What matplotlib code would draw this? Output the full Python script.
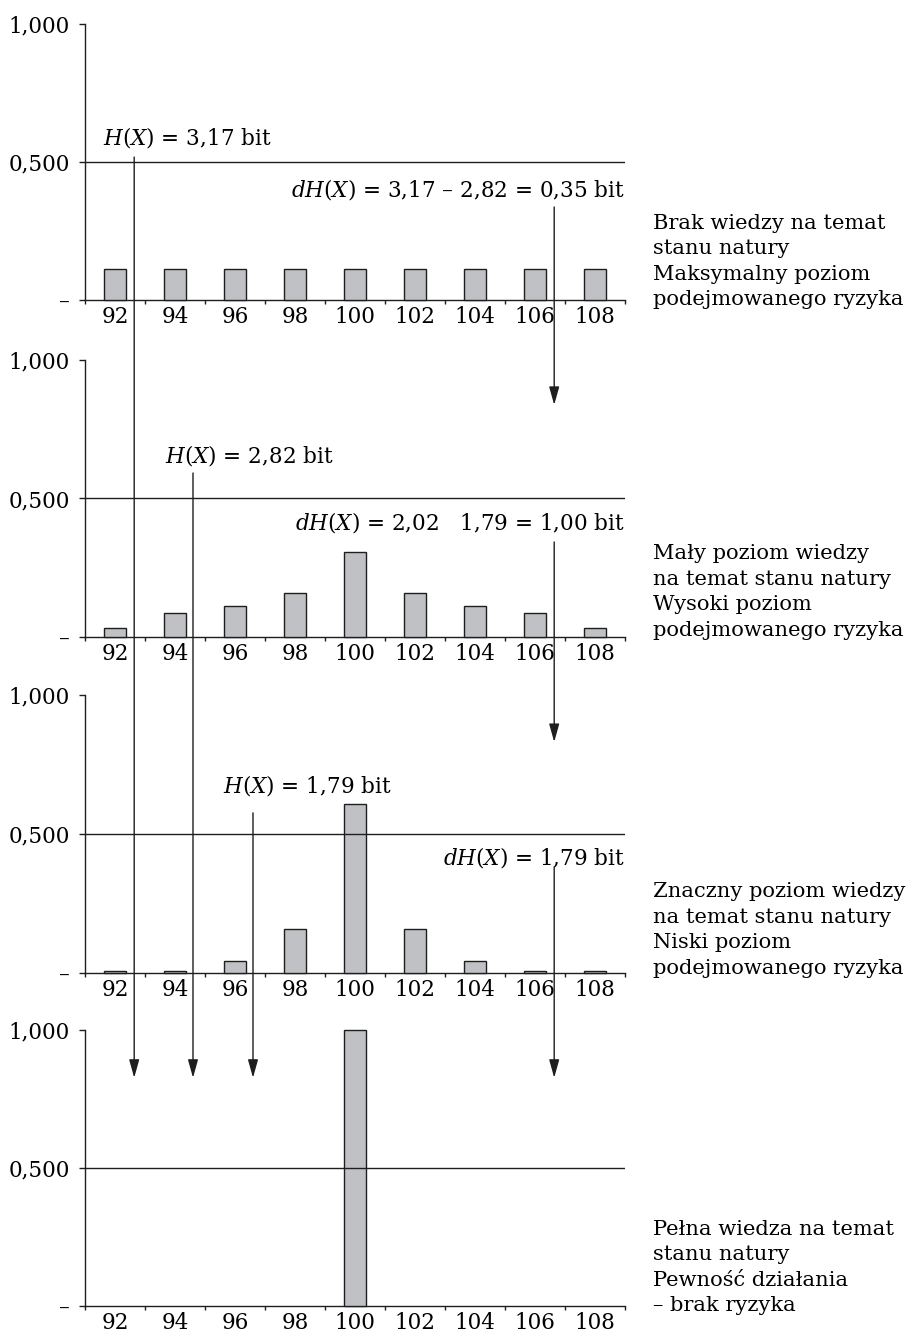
import numpy as np
import matplotlib.pyplot as plt
from matplotlib.patches import ConnectionPatch, ArrowStyle

plt.rcParams['font.family'] = 'DejaVu Serif'
plt.rcParams['mathtext.fontset'] = 'custom'
plt.rcParams['mathtext.rm'] = 'DejaVu Serif'
plt.rcParams['mathtext.it'] = 'DejaVu Serif:italic'

# dane
categories = ['92', '94', '96', '98', '100', '102', '104', '106', '108']
p_uniform = [0.111, 0.111, 0.111, 0.111, 0.111, 0.111, 0.111, 0.111, 0.111]
p_small = [0.032, 0.087, 0.112, 0.159, 0.307, 0.159, 0.112, 0.087, 0.032]
p_big = [0.007, 0.007, 0.043, 0.158, 0.608, 0.158, 0.043, 0.007, 0.007]
p_full = [0, 0, 0, 0, 1.0, 0, 0, 0, 0]
series = [p_uniform, p_small, p_big, p_full]

ytick_vals = [0, 0.5, 1.0]
ytick_labels = ['–', '0,500', '1,000']

h_labels = [r'$H$($X$) = 3,17 bit', r'$H$($X$) = 2,82 bit', r'$H$($X$) = 1,79 bit']
dh_labels = [r'$dH$($X$) = 3,17 – 2,82 = 0,35 bit',
             r'$dH$($X$) = 2,02   1,79 = 1,00 bit',
             r'$dH$($X$) = 1,79 bit']

descriptions = [
    ['Brak wiedzy na temat', 'stanu natury', 'Maksymalny poziom', 'podejmowanego ryzyka'],
    ['Mały poziom wiedzy', 'na temat stanu natury', 'Wysoki poziom', 'podejmowanego ryzyka'],
    ['Znaczny poziom wiedzy', 'na temat stanu natury', 'Niski poziom', 'podejmowanego ryzyka'],
    ['Pełna wiedza na temat', 'stanu natury', 'Pewność działania', '– brak ryzyka'],
]

# uklad (piksele od gory)
W, H = 913, 1337
panels_px = [(24, 300), (360, 637), (695, 973), (1030, 1306)]
left_px, right_px = 85, 625
fs = 15.5
fs_desc = 15.1
ink = '#1e1e1e'

fig = plt.figure(figsize=(W / 100, H / 100), dpi=100)
axes = []
for (top, bot), vals in zip(panels_px, series):
    ax = fig.add_axes([left_px / W, 1 - bot / H, (right_px - left_px) / W, (bot - top) / H])
    x = np.arange(len(categories))
    v = np.array(vals)
    nz = v > 0
    ax.bar(x[nz], v[nz], width=0.38, color='#c0c1c4', edgecolor=ink, linewidth=1.0,
           clip_on=False, zorder=3)
    ax.axhline(0.5, color=ink, lw=1.0, zorder=4)
    ax.set_xlim(-0.5, len(categories) - 0.5)
    ax.set_ylim(0, 1)
    for s in ['top', 'right']:
        ax.spines[s].set_visible(False)
    for s in ['left', 'bottom']:
        ax.spines[s].set_color(ink)
        ax.spines[s].set_linewidth(1.0)
    ax.set_yticks(ytick_vals)
    ax.set_yticklabels(ytick_labels, fontsize=fs)
    ax.tick_params(axis='y', length=4, width=1.0, color=ink, pad=7)
    ax.set_xticks(np.arange(-0.5, len(categories)), labels=[''] * (len(categories) + 1))
    ax.set_xticks(x, labels=categories, minor=True)
    ax.tick_params(axis='x', which='major', length=3, width=1.0, color=ink)
    ax.tick_params(axis='x', which='minor', length=0, pad=4, labelsize=fs)
    ax.patch.set_alpha(0)
    axes.append(ax)

# opisy H(X) i dH(X)
h_pos = [(-0.2, 0.587), (0.83, 0.657), (1.8, 0.676)]
dh_y = [0.399, 0.415, 0.414]
for k in range(3):
    axes[k].text(h_pos[k][0], h_pos[k][1], h_labels[k], fontsize=fs, ha='left', va='center')
    axes[k].text(8.5, dh_y[k], dh_labels[k], fontsize=fs, ha='right', va='center')

# opisy po prawej
desc_center = [0.14, 0.162, 0.155, 0.14]
for ax, lines, yc in zip(axes, descriptions, desc_center):
    for j, line in enumerate(lines):
        ax.annotate(line, xy=(1.052, yc), xycoords='axes fraction',
                    xytext=(0, (1.5 - j) * 25.5), textcoords='offset pixels',
                    fontsize=fs_desc, ha='left', va='center', annotation_clip=False)

# strzalki
style = ArrowStyle('-|>', head_length=1.0, head_width=0.28)
long_arrows = [(0.32, 0, 0.518), (1.3, 1, 0.592), (2.3, 2, 0.576)]
for xa, k, y0 in long_arrows:
    cp = ConnectionPatch(xyA=(xa, y0), coordsA=axes[k].transData,
                         xyB=(xa, 0.827), coordsB=axes[3].transData,
                         arrowstyle=style, mutation_scale=11, color=ink, lw=1.0,
                         shrinkA=0, shrinkB=0)
    fig.add_artist(cp)

dh_arrows = [(0, 0.337, 1, 0.838), (1, 0.343, 2, 0.831), (2, 0.381, 3, 0.827)]
for ka, y0, kb, y1 in dh_arrows:
    cp = ConnectionPatch(xyA=(7.32, y0), coordsA=axes[ka].transData,
                         xyB=(7.32, y1), coordsB=axes[kb].transData,
                         arrowstyle=style, mutation_scale=11, color=ink, lw=1.0,
                         shrinkA=0, shrinkB=0)
    fig.add_artist(cp)

fig.savefig('out.png', dpi=100)
